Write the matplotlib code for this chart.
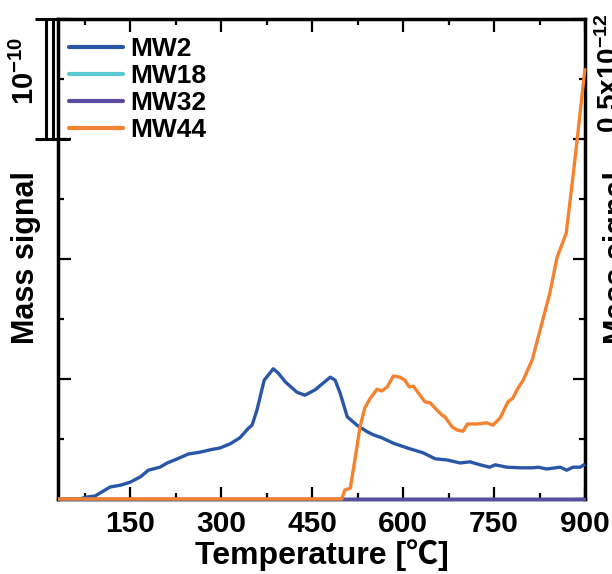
import matplotlib
matplotlib.use("Agg")
import matplotlib.pyplot as plt
import matplotlib.transforms as mtransforms
from matplotlib.ticker import MultipleLocator

plt.rcParams['font.family'] = ['Liberation Sans', 'Noto Sans CJK JP', 'DejaVu Sans']
plt.rcParams['mathtext.fontset'] = 'custom'
plt.rcParams['mathtext.rm'] = 'Liberation Sans:bold'
plt.rcParams['mathtext.bf'] = 'Liberation Sans:bold'
plt.rcParams['mathtext.it'] = 'Liberation Sans:bold'

# ---- data ----
t_mw2 = [31, 68, 76, 92, 117, 134, 150, 167, 180, 199, 211, 228, 246, 265, 282, 298,
         315, 331, 345, 351, 359, 371, 386, 394, 406, 425, 438, 455, 468, 480, 488, 496,
         508, 524, 541, 551, 565, 584, 607, 633, 653, 673, 694, 710, 727, 743, 752, 771,
         793, 814, 823, 837, 859, 870, 880, 892, 900]
v_mw2 = [0, 0, 0.03, 0.05, 0.20, 0.23, 0.28, 0.37, 0.48, 0.53, 0.60, 0.67, 0.75, 0.78,
         0.82, 0.85, 0.92, 1.02, 1.18, 1.23, 1.48, 1.98, 2.17, 2.10, 1.95, 1.78, 1.73,
         1.82, 1.93, 2.03, 1.98, 1.77, 1.37, 1.23, 1.12, 1.07, 1.02, 0.93, 0.85, 0.77,
         0.67, 0.65, 0.60, 0.62, 0.57, 0.53, 0.57, 0.53, 0.52, 0.52, 0.53, 0.50, 0.53,
         0.48, 0.53, 0.53, 0.58]

t_mw18 = [31, 900]
v_mw18 = [0, 0]

t_mw32 = [31, 900]
v_mw32 = [0, 0]

t_mw44 = [31, 499, 504, 513, 521, 529, 537, 546, 557, 565, 574, 584, 595, 603, 610, 617,
          628, 636, 645, 656, 664, 669, 681, 689, 699, 706, 722, 738, 748, 760, 773, 781,
          788, 798, 813, 842, 854, 869, 879, 887, 900]
v_mw44 = [0, 0, 0.15, 0.18, 0.68, 1.20, 1.52, 1.68, 1.83, 1.80, 1.87, 2.05, 2.03, 1.98,
          1.87, 1.88, 1.73, 1.62, 1.60, 1.48, 1.40, 1.37, 1.20, 1.15, 1.13, 1.25, 1.25,
          1.27, 1.23, 1.35, 1.62, 1.68, 1.82, 1.98, 2.32, 3.43, 4.03, 4.43, 5.27, 5.98, 7.18]

labels = ['MW2', 'MW18', 'MW32', 'MW44']
colors = ['#2A56A8', '#5CC8D2', '#5A4EA2', '#F5822E']
xticks = [150, 300, 450, 600, 750, 900]

fig = plt.figure(figsize=(6.12, 5.74), dpi=100)
ax = fig.add_axes([58/612, 75/574, 527/612, 480/574])

for t, v, lab, c in zip([t_mw2, t_mw18, t_mw32, t_mw44],
                        [v_mw2, v_mw18, v_mw32, v_mw44], labels, colors):
    ax.plot(t, v, color=c, lw=2.4, label=lab, clip_on=False,
            solid_capstyle='butt', zorder=3)

ax.set_xlim(31, 900)
ax.set_ylim(0, 8)
ax.set_xticks(xticks)
ax.xaxis.set_minor_locator(MultipleLocator(75))
ax.yaxis.set_major_locator(MultipleLocator(2))
ax.yaxis.set_minor_locator(MultipleLocator(1))
ax.set_yticklabels([])
ax.tick_params(which='both', direction='in', top=True, right=True, width=1.6)
ax.tick_params(which='major', length=9)
ax.tick_params(which='minor', length=4.5)
ax.tick_params(axis='x', labelsize=21.5, pad=8)
for lbl in ax.get_xticklabels():
    lbl.set_fontweight('bold')
for s in ax.spines.values():
    s.set_linewidth(2.5)

ax.set_xlabel('Temperature [℃]', fontsize=23, fontweight='bold', labelpad=1)
fig.text(26/612, 1 - 258/574, 'Mass signal', rotation=90, fontsize=22,
         fontweight='bold', ha='center', va='center')
fig.text(603/612, 1 - 258/574, 'Mass signal', rotation=90, fontsize=22,
         fontweight='bold', ha='left', va='center')
fig.text(596/612, 1 - 73/574, r'$0.5x10^{-12}$', rotation=90, fontsize=20,
         ha='left', va='center')

# scale bar on the left
tr = mtransforms.blended_transform_factory(ax.transAxes, ax.transData)
kw = dict(color='black', lw=2.2, transform=tr, clip_on=False, solid_capstyle='butt')
ax.plot([-0.0436, 0], [8, 8], **kw)
ax.plot([-0.0436, 0.0228], [6, 6], **kw)
ax.plot([-0.0228, -0.0228], [6, 8], **kw)
ax.plot([-0.0095, -0.0095], [6, 8], **kw)
fig.text(25/612, 1 - 71/574, r'$10^{-10}$', rotation=90, fontsize=21,
         ha='center', va='center')

leg = ax.legend(loc='upper left', frameon=False, fontsize=19, handlelength=2.05,
                handletextpad=0.28, labelspacing=0.12, borderaxespad=0.0,
                bbox_to_anchor=(0.0, 0.985))
for txt in leg.get_texts():
    txt.set_fontweight('bold')
for h in leg.get_lines():
    h.set_linewidth(3)
    h.set_solid_capstyle('round')

fig.savefig('out.png', dpi=100)
